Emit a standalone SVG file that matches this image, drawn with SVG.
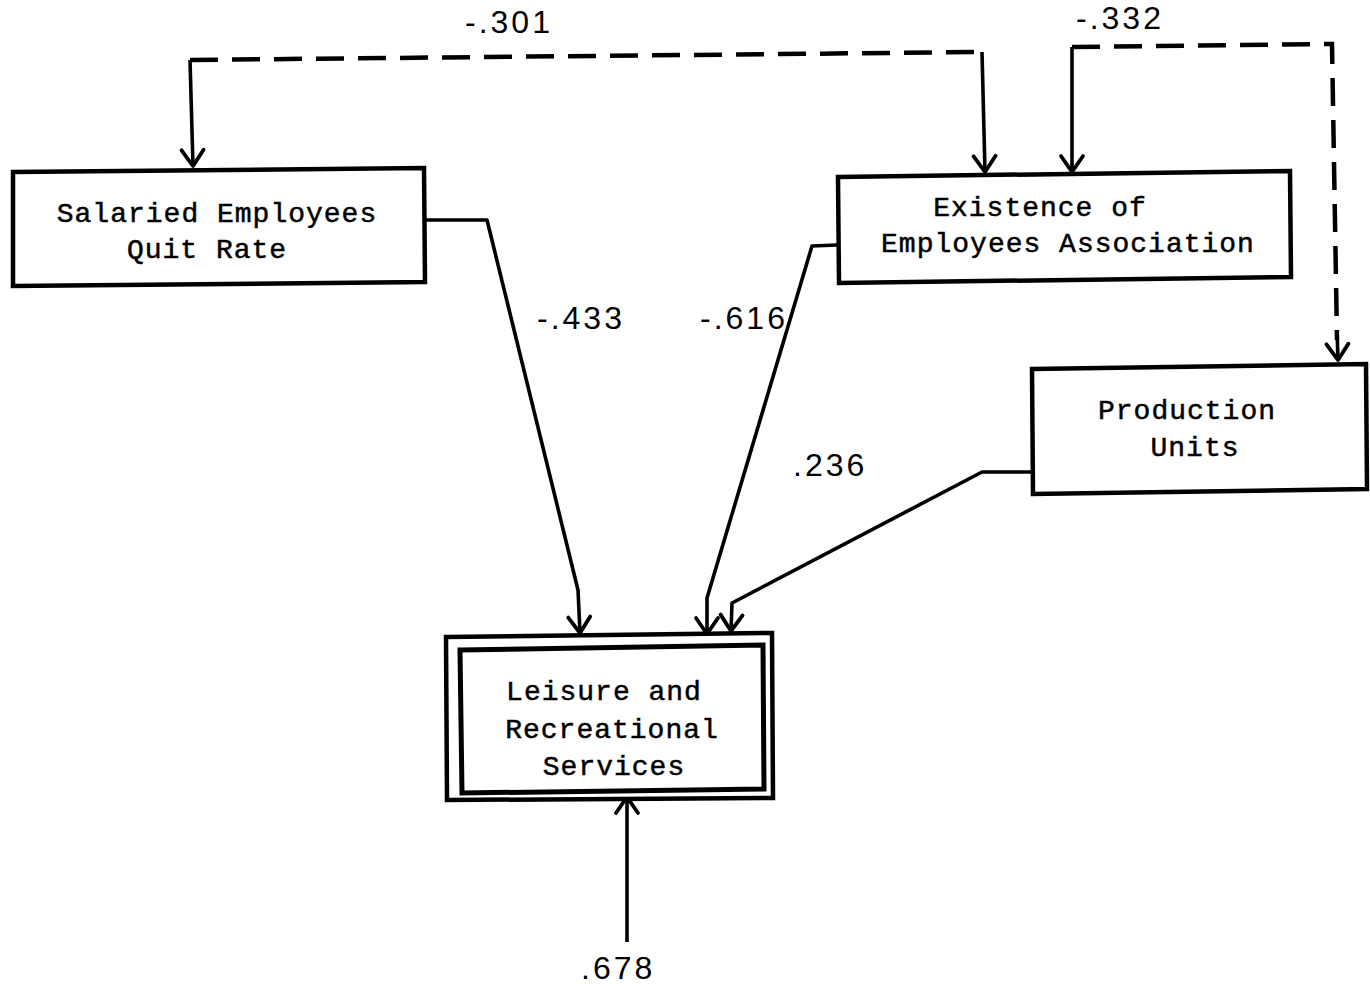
<svg xmlns="http://www.w3.org/2000/svg" width="1370" height="984" viewBox="0 0 1370 984">
  <style>
    .box { fill: #fff; stroke: #000; stroke-width: 4.5; }
    .lbl { font-family: "Liberation Mono", "DejaVu Sans Mono", monospace; font-size: 28px; letter-spacing: 1px; fill: #000; stroke: #000; stroke-width: 0.5; text-anchor: middle; }
    .num { font-family: "Liberation Sans", Arial, sans-serif; font-size: 32px; letter-spacing: 3px; fill: #000; }
    .edge { fill: none; stroke: #000; stroke-width: 3.6; stroke-linejoin: round; }
    .dash { fill: none; stroke: #000; stroke-width: 4.5; stroke-dasharray: 28 14; }
  </style>
  <defs>
    <marker id="vee" viewBox="-20 -14 24 28" markerWidth="24" markerHeight="28" refX="0" refY="0" orient="auto" markerUnits="userSpaceOnUse">
      <path d="M-16,-11 L0,0 L-16,11" fill="none" stroke="#000" stroke-width="3.8" stroke-linecap="round" stroke-linejoin="round"/>
    </marker>
  </defs>

  <rect width="1370" height="984" fill="#fff"/>

  <!-- connectors -->
  <g id="connectors">
    <!-- -.301 link between quit rate and association -->
    <path class="dash" d="M190,60 L982,52"/>
    <path class="edge" d="M190,60 L193,166" marker-end="url(#vee)"/>
    <path class="edge" d="M982,52 L985,172" marker-end="url(#vee)"/>
    <!-- -.332 link between association and production units -->
    <path class="dash" d="M1072,47 L1332,44 L1337,340"/>
    <path class="edge" d="M1337,330 L1338,360" marker-end="url(#vee)"/>
    <path class="edge" d="M1072,47 L1072,172" marker-end="url(#vee)"/>
    <!-- paths into leisure services -->
    <path class="edge" d="M425,220 L487,220 L578,590 L580,633" marker-end="url(#vee)"/>
    <path class="edge" d="M837,245 L812,246 L707,598 L707,634" marker-end="url(#vee)"/>
    <path class="edge" d="M1032,472 L982,472 L732,603 L731,631" marker-end="url(#vee)"/>
    <path class="edge" d="M627,942 L627,797" marker-end="url(#vee)"/>
  </g>

  <!-- coefficient labels -->
  <g id="labels">
    <text class="num" x="465" y="33">-.301</text>
    <text class="num" x="1076" y="29">-.332</text>
    <text class="num" x="537" y="329">-.433</text>
    <text class="num" x="700" y="329">-.616</text>
    <text class="num" x="793" y="476">.236</text>
    <text class="num" x="581" y="979">.678</text>
  </g>

  <g id="node-quit-rate">
    <path class="box" d="M13,172 L424,168 L425,282 L13,286 Z"/>
    <text class="lbl" x="217" y="222">Salaried Employees</text>
    <text class="lbl" x="207" y="258">Quit Rate</text>
  </g>

  <g id="node-association">
    <path class="box" d="M838,177 L1290,171 L1291,277 L839,283 Z"/>
    <text class="lbl" x="1040" y="216">Existence of</text>
    <text class="lbl" x="1068" y="252">Employees Association</text>
  </g>

  <g id="node-production">
    <path class="box" d="M1032,369 L1366,364 L1367,489 L1033,494 Z"/>
    <text class="lbl" x="1187" y="419">Production</text>
    <text class="lbl" x="1195" y="456">Units</text>
  </g>

  <g id="node-leisure">
    <path class="box" d="M446,637 L772,633 L773,798 L447,800 Z"/>
    <path class="box" style="stroke-width:5" d="M460,650 L763,645 L764,789 L462,793 Z"/>
    <text class="lbl" x="604" y="700">Leisure and</text>
    <text class="lbl" x="612" y="738">Recreational</text>
    <text class="lbl" x="614" y="775">Services</text>
  </g>
</svg>
